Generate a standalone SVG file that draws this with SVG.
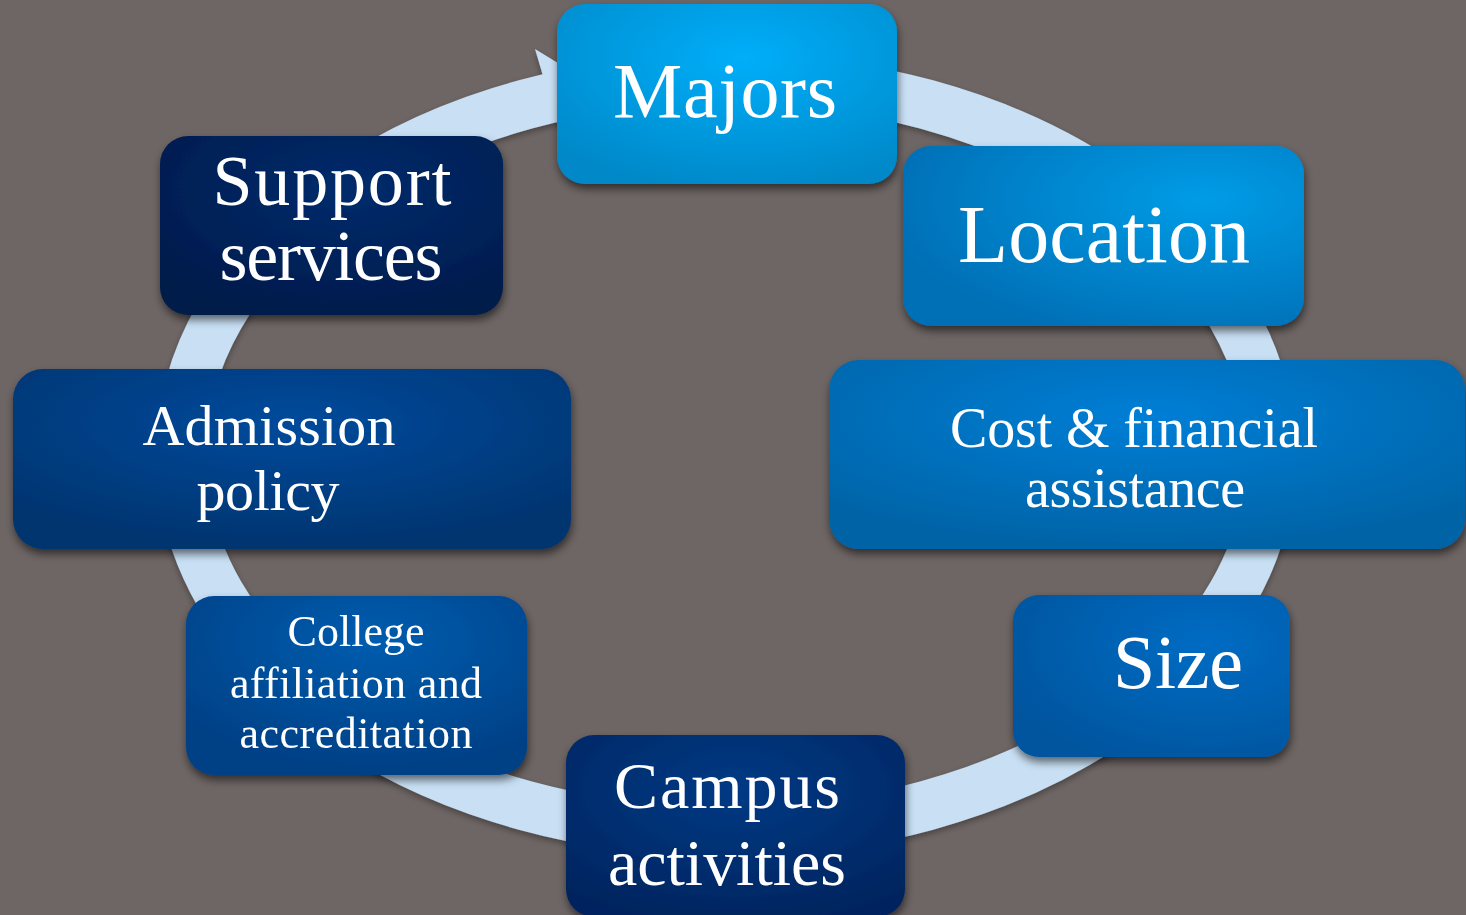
<svg xmlns="http://www.w3.org/2000/svg" width="1466" height="915" viewBox="0 0 1466 915">
<defs>
<style>
.t{font-family:"Liberation Serif","DejaVu Serif",serif;fill:#ffffff;text-anchor:middle;}
</style>
<filter id="sh" x="-10%" y="-10%" width="125%" height="135%">
<feDropShadow dx="1" dy="5" stdDeviation="4" flood-color="#000000" flood-opacity="0.55"/>
</filter>
<filter id="rs" x="-5%" y="-5%" width="110%" height="112%">
<feDropShadow dx="0" dy="3" stdDeviation="3" flood-color="#000000" flood-opacity="0.35"/>
</filter>
<radialGradient id="gMaj" cx="0.55" cy="0.3" r="0.75"><stop offset="0" stop-color="#00aef9"/><stop offset="1" stop-color="#0088c8"/></radialGradient>
<radialGradient id="gLoc" cx="0.75" cy="0.3" r="0.8"><stop offset="0" stop-color="#009ce6"/><stop offset="1" stop-color="#006fb6"/></radialGradient>
<radialGradient id="gCost" cx="0.5" cy="0.3" r="0.7"><stop offset="0" stop-color="#007ed6"/><stop offset="1" stop-color="#0063a6"/></radialGradient>
<radialGradient id="gSize" cx="0.7" cy="0.3" r="0.8"><stop offset="0" stop-color="#006cc4"/><stop offset="1" stop-color="#00559e"/></radialGradient>
<radialGradient id="gCamp" cx="0.5" cy="0.3" r="0.75"><stop offset="0" stop-color="#003a85"/><stop offset="1" stop-color="#00245e"/></radialGradient>
<radialGradient id="gColl" cx="0.55" cy="0.25" r="0.75"><stop offset="0" stop-color="#005cae"/><stop offset="1" stop-color="#003f84"/></radialGradient>
<radialGradient id="gAdm" cx="0.5" cy="0.3" r="0.7"><stop offset="0" stop-color="#004a9c"/><stop offset="1" stop-color="#00346f"/></radialGradient>
<radialGradient id="gSup" cx="0.55" cy="0.3" r="0.75"><stop offset="0" stop-color="#002b6c"/><stop offset="1" stop-color="#001a4a"/></radialGradient>
</defs>
<rect x="0" y="0" width="1466" height="915" fill="#6e6665"/>
<g id="connectors" filter="url(#rs)">
<ellipse cx="726" cy="455" rx="545" ry="377" fill="none" stroke="#c8dff4" stroke-width="50"/>
<polygon points="535,49 612,96 560,126 543,76" fill="#c8dff4"/>
</g>
<g id="majors" filter="url(#sh)">
<rect x="557" y="4" width="340" height="180" rx="28" fill="url(#gMaj)"/>
<text class="t" x="725" y="117" font-size="78" textLength="224" lengthAdjust="spacing">Majors</text>
</g>
<g id="location" filter="url(#sh)">
<rect x="903" y="146" width="401" height="180" rx="28" fill="url(#gLoc)"/>
<text class="t" x="1104" y="262" font-size="82" textLength="292" lengthAdjust="spacing">Location</text>
</g>
<g id="cost" filter="url(#sh)">
<rect x="829" y="360" width="636" height="189" rx="30" fill="url(#gCost)"/>
<text class="t" x="1134" y="447" font-size="56" textLength="368" lengthAdjust="spacing">Cost &amp; financial</text>
<text class="t" x="1135" y="507" font-size="56" textLength="220" lengthAdjust="spacing">assistance</text>
</g>
<g id="size" filter="url(#sh)">
<rect x="1013" y="595" width="277" height="162" rx="26" fill="url(#gSize)"/>
<text class="t" x="1178" y="688" font-size="76" textLength="130" lengthAdjust="spacing">Size</text>
</g>
<g id="campus" filter="url(#sh)">
<rect x="566" y="735" width="339" height="182" rx="28" fill="url(#gCamp)"/>
<text class="t" x="727" y="808" font-size="66" textLength="226" lengthAdjust="spacing">Campus</text>
<text class="t" x="727" y="885" font-size="66" textLength="238" lengthAdjust="spacing">activities</text>
</g>
<g id="college" filter="url(#sh)">
<rect x="186" y="596" width="341" height="179" rx="28" fill="url(#gColl)"/>
<text class="t" x="356" y="646" font-size="44" textLength="137" lengthAdjust="spacing">College</text>
<text class="t" x="356" y="698" font-size="44" textLength="252" lengthAdjust="spacing">affiliation and</text>
<text class="t" x="356" y="748" font-size="44" textLength="233" lengthAdjust="spacing">accreditation</text>
</g>
<g id="admission" filter="url(#sh)">
<rect x="13" y="369" width="558" height="180" rx="30" fill="url(#gAdm)"/>
<text class="t" x="269" y="445" font-size="58" textLength="253" lengthAdjust="spacing">Admission</text>
<text class="t" x="268" y="510" font-size="58" textLength="143" lengthAdjust="spacing">policy</text>
</g>
<g id="support" filter="url(#sh)">
<rect x="160" y="136" width="343" height="179" rx="28" fill="url(#gSup)"/>
<text class="t" x="332" y="205" font-size="72" textLength="239" lengthAdjust="spacing">Support</text>
<text class="t" x="331" y="280" font-size="72" textLength="223" lengthAdjust="spacing">services</text>
</g>
</svg>
